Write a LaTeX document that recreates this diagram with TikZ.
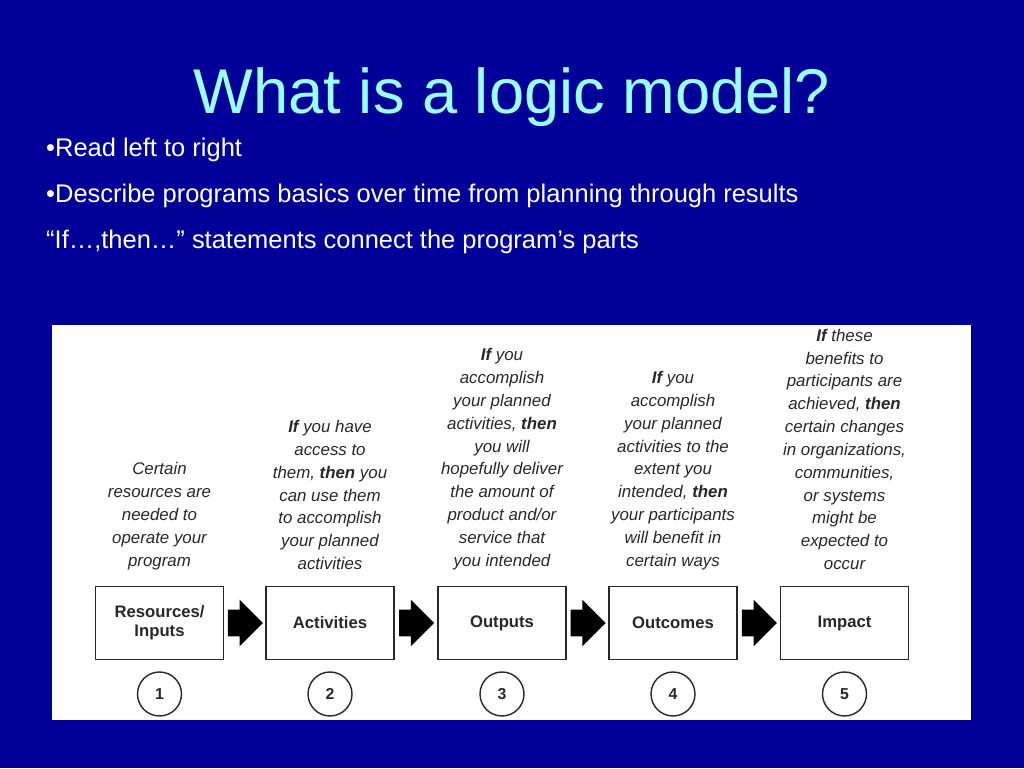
\documentclass[tikz,border=0pt]{standalone}
\usepackage{fontspec}
\setmainfont{Liberation Sans}
\usetikzlibrary{shapes.arrows, calc}
\definecolor{slidebg}{RGB}{0,0,153}
\definecolor{titlecol}{RGB}{153,255,255}
\definecolor{inkgray}{RGB}{40,40,40}
\begin{document}
\begin{tikzpicture}[
   x=0.02cm, y=-0.02cm,
 stagebox/.style = {draw=inkgray, thick, minimum width=2.56cm, minimum height=1.46cm,
                    font=\fontsize{9.5}{11}\selectfont\bfseries, text=inkgray, align=center},
 stagenote/.style = {anchor=south, align=center, text=inkgray,
                    font=\fontsize{9.6}{13}\selectfont\itshape},
 stagenum/.style = {draw=inkgray, thick, circle, minimum size=0.88cm,
                    font=\fontsize{9}{10}\selectfont\bfseries, text=inkgray},
 blockarrow/.style = {single arrow, fill=black, inner xsep=0pt, inner ysep=0.26cm,
                    single arrow head extend=0.2cm, minimum height=0.7cm},
 bullet/.style = {anchor=west, text=white, font=\fontsize{14.5}{16}\selectfont}
                        ]
% background
    \fill[slidebg] (0,0) rectangle (1024,768);
    \node[text=titlecol, font=\fontsize{36}{40}\selectfont] (title) at (512,97) {What is a logic model?};
% bullets
    \node[bullet] (b1) at (40,150) {•Read left to right};
    \node[bullet] (b2) at (40,196) {•Describe programs basics over time from planning through results};
    \node[bullet] (b3) at (40,242) {“If…,then…” statements connect the program’s parts};
% panel
    \fill[white] (52,325) rectangle (971,720);
% stages
    \node[stagebox] (res) at (159.5,623) {Resources/\\Inputs};
    \node[stagebox] (act) at (330,623) {Activities};
    \node[stagebox] (out) at (502,623) {Outputs};
    \node[stagebox] (oc)  at (673,623) {Outcomes};
    \node[stagebox] (imp) at (844.5,623) {Impact};
% arrows between stages
    \foreach \a/\b in {res/act, act/out, out/oc, oc/imp}
        \node[blockarrow, xshift=-0.12cm] at ($(\a.east)!0.5!(\b.west)$) {};
% numbers
    \foreach \s/\n in {res/1, act/2, out/3, oc/4, imp/5}
        \node[stagenum] (n\n) at ([yshift=-1.42cm]\s.center) {\n};
% notes
    \node[stagenote] (t1) at (159.5,576) {Certain\\resources are\\needed to\\operate your\\program};
    \node[stagenote] (t2) at (330,576) {\textbf{If} you have\\access to\\them, \textbf{then} you\\can use them\\to accomplish\\your planned\\activities};
    \node[stagenote] (t3) at (502,576) {\textbf{If} you\\accomplish\\your planned\\activities, \textbf{then}\\you will\\hopefully deliver\\the amount of\\product and/or\\service that\\you intended};
    \node[stagenote] (t4) at (673,576) {\textbf{If} you\\accomplish\\your planned\\activities to the\\extent you\\intended, \textbf{then}\\your participants\\will benefit in\\certain ways};
    \node[stagenote] (t5) at (844.5,576) {\textbf{If} these\\benefits to\\participants are\\achieved, \textbf{then}\\certain changes\\in organizations,\\communities,\\or systems\\might be\\expected to\\occur};
\end{tikzpicture}
\end{document}
